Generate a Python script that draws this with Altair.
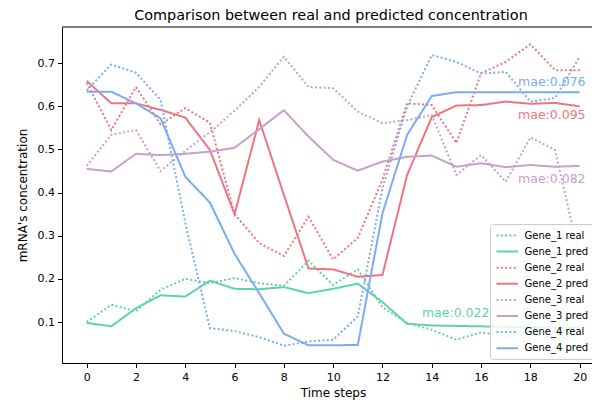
import altair as alt
import pandas as pd

steps = list(range(21))

gene1_real = [0.100, 0.140, 0.125, 0.175, 0.200, 0.190, 0.202, 0.190, 0.184, 0.242, 0.186,
              0.222, 0.134, 0.098, 0.082, 0.059, 0.076, 0.067, 0.078, 0.058, 0.072]
gene1_pred = [0.098, 0.090, 0.132, 0.162, 0.159, 0.196, 0.177, 0.176, 0.181, 0.167, 0.177,
              0.189, 0.146, 0.096, 0.092, 0.091, 0.090, 0.089, 0.088, 0.087, 0.087]
gene2_real = [0.655, 0.545, 0.645, 0.558, 0.596, 0.562, 0.350, 0.283, 0.253, 0.344, 0.245,
              0.295, 0.430, 0.607, 0.603, 0.515, 0.677, 0.703, 0.744, 0.684, 0.684]
gene2_pred = [0.659, 0.607, 0.607, 0.592, 0.574, 0.499, 0.350, 0.568, 0.395, 0.224, 0.222,
              0.205, 0.209, 0.441, 0.575, 0.602, 0.603, 0.611, 0.606, 0.608, 0.600]
gene3_real = [0.462, 0.534, 0.545, 0.450, 0.497, 0.540, 0.590, 0.645, 0.715, 0.645, 0.642,
              0.588, 0.561, 0.568, 0.580, 0.441, 0.487, 0.425, 0.528, 0.499, 0.250]
gene3_pred = [0.455, 0.449, 0.490, 0.487, 0.490, 0.495, 0.504, 0.547, 0.591, 0.530, 0.476,
              0.451, 0.472, 0.483, 0.486, 0.460, 0.468, 0.459, 0.464, 0.460, 0.462]
gene4_real = [0.637, 0.697, 0.678, 0.615, 0.330, 0.086, 0.079, 0.065, 0.045, 0.055, 0.059,
              0.113, 0.410, 0.600, 0.719, 0.703, 0.676, 0.680, 0.611, 0.619, 0.715]
gene4_pred = [0.634, 0.634, 0.607, 0.572, 0.437, 0.377, 0.258, 0.167, 0.073, 0.046, 0.046,
              0.047, 0.352, 0.534, 0.624, 0.633, 0.633, 0.633, 0.633, 0.633, 0.633]

series_names = ["Gene_1 real", "Gene_1 pred", "Gene_2 real", "Gene_2 pred",
                "Gene_3 real", "Gene_3 pred", "Gene_4 real", "Gene_4 pred"]
series_values = [gene1_real, gene1_pred, gene2_real, gene2_pred,
                 gene3_real, gene3_pred, gene4_real, gene4_pred]

gene_colors = ["#5ed4a6", "#f07480", "#c7a0cc", "#7cacf0"]
series_colors = [c for c in gene_colors for _ in range(2)]
series_dashes = [[2, 2.3], [1, 0]] * 4

mae_labels = ["mae:0.022", "mae:0.095", "mae:0.082", "mae:0.076"]
mae_x = [13.6, 17.5, 17.5, 17.5]
mae_y = [0.111, 0.571, 0.422, 0.648]

x_ticks = list(range(0, 21, 2))
y_ticks = [0.1, 0.2, 0.3, 0.4, 0.5, 0.6, 0.7]

rows = []
for name, vals in zip(series_names, series_values):
    for t, v in zip(steps, vals):
        rows.append({"t": t, "value": v, "series": name})
df = pd.DataFrame(rows)

FONT = "DejaVu Sans"
W, H = 530, 336

xscale = alt.Scale(domain=[-1, 20.5], nice=False, zero=False)
yscale = alt.Scale(domain=[0.005, 0.784], nice=False, zero=False)

legend = alt.Legend(
    title=None, orient="none", legendX=428, legendY=197,
    symbolType="M-1,0L3.32,0", symbolSize=100, symbolStrokeWidth=2,
    labelFontSize=10, labelFont=FONT, labelColor="black", labelOffset=17,
    padding=5.5, rowPadding=5.1, fillColor="rgba(255,255,255,0.8)",
    strokeColor="#cccccc", cornerRadius=3, labelLimit=200,
)

lines = alt.Chart(df).mark_line(strokeWidth=2).encode(
    x=alt.X("t:Q", scale=xscale, axis=alt.Axis(
        values=x_ticks, title="Time steps", titleX=271, titleY=33.8,
        titleBaseline="alphabetic", titleAlign="center", labelPadding=4)),
    y=alt.Y("value:Q", scale=yscale, axis=alt.Axis(
        values=y_ticks, format=".1f", title="mRNA's concentration",
        titleAngle=270, titleX=-40, titleY=168, titleAlign="center",
        titleBaseline="middle")),
    color=alt.Color("series:N", scale=alt.Scale(domain=series_names, range=series_colors),
                    legend=legend),
    strokeDash=alt.StrokeDash("series:N", scale=alt.Scale(domain=series_names, range=series_dashes),
                              legend=legend),
    detail="series:N",
)

top_border = alt.Chart(pd.DataFrame({"a": [0]})).mark_rule(color="black", strokeWidth=1).encode(
    x=alt.value(0), x2=alt.value(W), y=alt.value(0)
)

text_layers = []
for lab, tx, ty, col in zip(mae_labels, mae_x, mae_y, gene_colors):
    tdf = pd.DataFrame({"t": [tx], "value": [ty], "label": [lab]})
    text_layers.append(
        alt.Chart(tdf).mark_text(align="left", baseline="alphabetic", fontSize=12.5,
                                 font=FONT, color=col).encode(
            x=alt.X("t:Q", scale=xscale),
            y=alt.Y("value:Q", scale=yscale),
            text="label:N",
        )
    )

chart = alt.layer(lines, top_border, *text_layers).properties(
    width=W, height=H, autosize="none",
    padding={"left": 54, "top": 19, "right": 0, "bottom": 37},
    title=alt.TitleParams("Comparison between real and predicted concentration",
                          fontSize=14.4, font=FONT, fontWeight="normal", color="black",
                          offset=7, baseline="alphabetic", anchor="middle", dx=4, dy=15),
).configure_view(stroke=None).configure_axis(
    grid=False, domainColor="black", tickColor="black", labelColor="black",
    titleColor="black", labelFont=FONT, titleFont=FONT, labelFontSize=11,
    titleFontSize=12, titleFontWeight="normal", tickSize=4.5, labelPadding=3,
    domainWidth=1, tickWidth=1,
)

chart.save("out.html", embed_options={"renderer": "svg", "actions": False})
